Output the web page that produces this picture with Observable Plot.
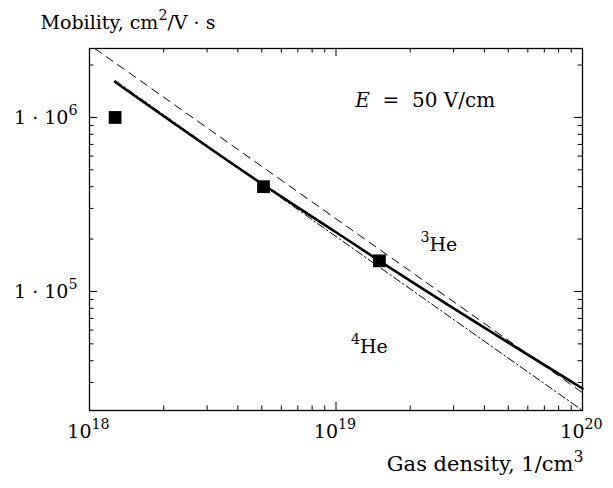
<!DOCTYPE html>
<html><head><meta charset="utf-8">
<script src="https://cdn.jsdelivr.net/npm/d3@7"></script>
<script src="https://cdn.jsdelivr.net/npm/@observablehq/plot@0.6"></script>
<style>body{margin:0;background:#fff} svg text{font-family:"DejaVu Serif",serif !important;}</style>
</head><body><div id="chart"></div>
<script>
// Data
const squareX = [1.27e18, 5.08e18, 1.5e19];
const squareY = [1.0e6, 4.0e5, 1.5e5];
const solidX = [1.27e18, 5.08e18, 1.0e19, 1.5e19, 1.0e20];
const solidY = [1.6e6, 4.1e5, 2.19e5, 1.5e5, 2.77e4];
const dashedX = [1.05e18, 1.0e20];
const dashedY = [2.49e6, 2.62e4];
const dashDotX = [1.27e18, 1.0e20];
const dashDotY = [1.63e6, 2.07e4];

const xMajor = [1e18, 1e19, 1e20];
const xMajorLabels = ["10^{18}", "10^{19}", "10^{20}"];
const xMinor = [2e18,3e18,4e18,5e18,6e18,7e18,8e18,9e18,2e19,3e19,4e19,5e19,6e19,7e19,8e19,9e19];
const yMajor = [1e5, 1e6];
const yMajorLabels = ["1 · 10^5", "1 · 10^6"];
const yMinor = [3e4,4e4,5e4,6e4,7e4,8e4,9e4,2e5,3e5,4e5,5e5,6e5,7e5,8e5,9e5,2e6];

const noteText = ["*E*  =  50 V/cm", "^3He", "^4He"];
const noteX = [2.3e19, 2.2e19, 1.15e19];
const noteY = [1.25e6, 1.84e5, 4.83e4];
const noteAnchor = ["middle", "start", "start"];
const noteSize = [20, 19, 19];

const yTitle = "Mobility, cm^2/V · s";
const xTitle = "Gas density, 1/cm^3";

const FS = 19;
const W = 613, H = 488;
const mL = 89, mR = 31, mT = 48, mB = 78;
const FW = W - mL - mR, FH = H - mT - mB;

const pts = squareX.map((x, i) => ({x, y: squareY[i]}));
const solid = solidX.map((x, i) => ({x, y: solidY[i]}));
const dashed = dashedX.map((x, i) => ({x, y: dashedY[i]}));
const dashDot = dashDotX.map((x, i) => ({x, y: dashDotY[i]}));
const notes = noteText.map((t, i) => ({t, x: noteX[i], y: noteY[i], a: noteAnchor[i], s: noteSize[i]}));

const txt = {fontSize: FS, fill: "black"};

const chart = Plot.plot({
  width: W, height: H,
  marginLeft: mL, marginRight: mR, marginTop: mT, marginBottom: mB,
  x: {type: "log", domain: [1e18, 1e20], axis: null},
  y: {type: "log", domain: [2.07e4, 2.49e6], axis: null},
  style: {background: "white"},
  marks: [
    Plot.line(dashed, {x: "x", y: "y", stroke: "black", strokeWidth: 1, strokeDasharray: "8,6"}),
    Plot.line(dashDot, {x: "x", y: "y", stroke: "black", strokeWidth: 1, strokeDasharray: "8,3,1.5,3"}),
    Plot.line(solid, {x: "x", y: "y", stroke: "black", strokeWidth: 2.6, curve: "monotone-x"}),
    Plot.dot(pts, {x: "x", y: "y", symbol: "square", r: 7.2, fill: "black", stroke: "none"}),
    // inward ticks
    Plot.tickX(xMajor, {x: d => d, insetTop: FH - 8, stroke: "black", strokeWidth: 1}),
    Plot.tickX(xMajor, {x: d => d, insetBottom: FH - 8, stroke: "black", strokeWidth: 1}),
    Plot.tickX(xMinor, {x: d => d, insetTop: FH - 4.5, stroke: "black", strokeWidth: 1}),
    Plot.tickX(xMinor, {x: d => d, insetBottom: FH - 4.5, stroke: "black", strokeWidth: 1}),
    Plot.tickY(yMajor, {y: d => d, insetRight: FW - 8, stroke: "black", strokeWidth: 1}),
    Plot.tickY(yMajor, {y: d => d, insetLeft: FW - 8, stroke: "black", strokeWidth: 1}),
    Plot.tickY(yMinor, {y: d => d, insetRight: FW - 4.5, stroke: "black", strokeWidth: 1}),
    Plot.tickY(yMinor, {y: d => d, insetLeft: FW - 4.5, stroke: "black", strokeWidth: 1}),
    Plot.frame({stroke: "black", strokeWidth: 1.3}),
    // tick labels
    Plot.text(xMajor, {x: d => d, text: (d, i) => xMajorLabels[i], frameAnchor: "bottom", dy: 27, dx: -1, ...txt}),
    Plot.text(yMajor, {y: d => d, text: (d, i) => yMajorLabels[i], frameAnchor: "left", textAnchor: "end", dx: -12, ...txt}),
    // annotations
    Plot.text(notes.filter(d => d.a === "middle"), {x: "x", y: "y", text: "t", textAnchor: "middle", fontSize: 20, fill: "black"}),
    Plot.text(notes.filter(d => d.a === "start"), {x: "x", y: "y", text: "t", textAnchor: "start", ...txt}),
    // axis titles
    Plot.text([yTitle], {frameAnchor: "top-left", textAnchor: "start", dx: -49, dy: -33, ...txt}),
    Plot.text([xTitle], {frameAnchor: "bottom-right", textAnchor: "end", dx: 1, dy: 60, fontSize: 21, fill: "black"})
  ]
});

// rich text: ^{..} / ^c superscripts, *..* italics
const NS = "http://www.w3.org/2000/svg";
chart.querySelectorAll("text").forEach(t => {
  const nodes = t.querySelectorAll("tspan").length ? [...t.querySelectorAll("tspan")] : [t];
  nodes.forEach(n => {
    const s = n.textContent;
    if (!/[\^*]/.test(s)) return;
    n.textContent = "";
    const re = /\^\{([^}]*)\}|\^(\S)|\*([^*]+)\*|([^\^*]+)/g;
    let m, shift = 0;
    while ((m = re.exec(s))) {
      const ts = document.createElementNS(NS, "tspan");
      if (m[1] !== undefined || m[2] !== undefined) {
        ts.textContent = m[1] !== undefined ? m[1] : m[2];
        ts.setAttribute("font-size", "0.75em");
        ts.setAttribute("dy", -9 - shift);
        shift = -9;
      } else {
        ts.textContent = m[3] !== undefined ? m[3] : m[4];
        if (m[3] !== undefined) ts.setAttribute("font-style", "italic");
        if (shift) { ts.setAttribute("dy", -shift); shift = 0; }
      }
      n.appendChild(ts);
    }
  });
});

document.getElementById("chart").appendChild(chart);
</script>
</body></html>
